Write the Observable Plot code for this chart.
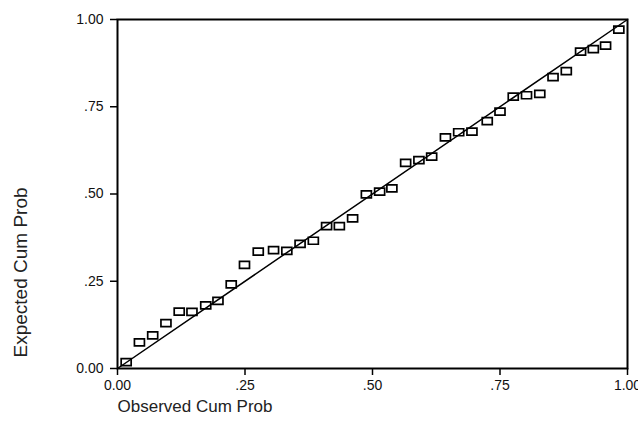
<!DOCTYPE html>
<html>
<head>
<meta charset="utf-8">
<script src="https://cdn.jsdelivr.net/npm/d3@7"></script>
<script src="https://cdn.jsdelivr.net/npm/@observablehq/plot@0.6"></script>
<style>
  html, body { margin: 0; padding: 0; background: #fff; }
  #chart svg { display: block; }
</style>
</head>
<body>
<div id="chart"></div>
<script>
// Observed cumulative probabilities (x)
const observed = [0.017, 0.043, 0.069, 0.095, 0.121, 0.146, 0.173, 0.197, 0.223, 0.249,
  0.276, 0.306, 0.332, 0.358, 0.384, 0.410, 0.435, 0.461, 0.488, 0.514,
  0.538, 0.565, 0.591, 0.616, 0.643, 0.669, 0.695, 0.725, 0.750, 0.776,
  0.802, 0.828, 0.854, 0.880, 0.908, 0.933, 0.957, 0.983];
// Expected cumulative probabilities (y)
const expected = [0.018, 0.075, 0.095, 0.130, 0.163, 0.162, 0.181, 0.194, 0.241, 0.297,
  0.335, 0.339, 0.337, 0.357, 0.366, 0.408, 0.408, 0.430, 0.499, 0.507,
  0.516, 0.589, 0.597, 0.607, 0.662, 0.677, 0.679, 0.709, 0.736, 0.779,
  0.783, 0.787, 0.835, 0.852, 0.908, 0.915, 0.925, 0.971];
const refLine = [0, 1];
const tickValues = [0, 0.25, 0.5, 0.75, 1];
const tickLabels = ["0.00", ".25", ".50", ".75", "1.00"];
const xTitle = "Observed Cum Prob";
const yTitle = "Expected Cum Prob";

const points = observed.map((o, i) => ({x: o, y: expected[i]}));
const fmt = d => tickLabels[tickValues.indexOf(d)];

const rectSymbol = {
  draw(ctx) {
    ctx.moveTo(-5, -3.5);
    ctx.lineTo(5, -3.5);
    ctx.lineTo(5, 3.5);
    ctx.lineTo(-5, 3.5);
    ctx.closePath();
  }
};

const chart = Plot.plot({
  width: 638,
  height: 444,
  marginLeft: 117,
  marginRight: 11,
  marginTop: 19,
  marginBottom: 76,
  style: {fontFamily: "'Liberation Sans', Arial, sans-serif", fontSize: "14px", background: "#fff", color: "#000"},
  x: {domain: [0, 1]},
  y: {domain: [0, 1]},
  marks: [
    Plot.axisX({ticks: tickValues, tickFormat: fmt, tickSize: 7, tickPadding: 5, label: null, stroke: "#000", strokeWidth: 1.5, fontSize: 14, fill: "#111"}),
    Plot.axisY({ticks: tickValues, tickFormat: fmt, tickSize: 7, tickPadding: 7, label: null, stroke: "#000", strokeWidth: 1.5, fontSize: 14, fill: "#111"}),
    Plot.line(refLine, {x: d => d, y: d => d, stroke: "#000", strokeWidth: 1.5}),
    Plot.dot(points, {x: "x", y: "y", symbol: rectSymbol, r: 4, stroke: "#000", strokeWidth: 1.7, fill: "none"}),
    Plot.frame({stroke: "#000", strokeWidth: 2}),
    Plot.text([xTitle], {frameAnchor: "bottom-left", dy: 43, textAnchor: "start", fontSize: 17, text: d => d, fill: "#222"}),
    Plot.text([yTitle], {frameAnchor: "bottom-left", dx: -91, dy: -11, rotate: -90, textAnchor: "start", fontSize: 19, text: d => d, fill: "#222"})
  ]
});
document.getElementById("chart").appendChild(chart);
</script>
</body>
</html>
